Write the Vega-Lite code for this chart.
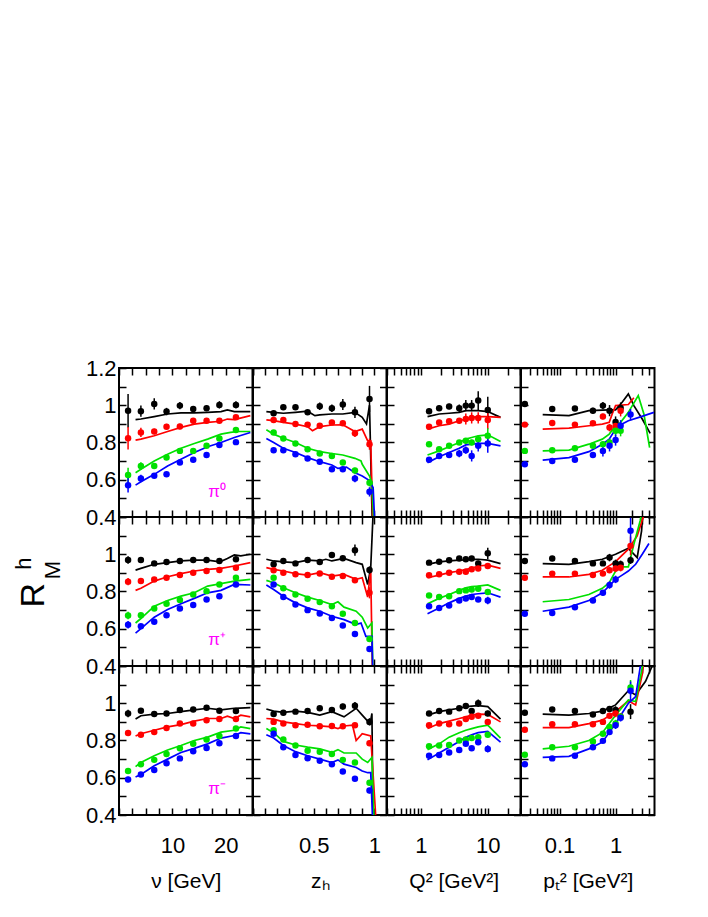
{
"$schema":"https://vega.github.io/schema/vega-lite/v6.json",
"background":"white",
"padding":{"left":11,"top":356,"right":5,"bottom":5},
"datasets":{
"Pn0":[{"c":"He","x":1.7,"y":0.971,"e":0.09},{"c":"He","x":4.1,"y":0.968,"e":0.03},{"c":"He","x":6.6,"y":1.007,"e":0.03},{"c":"He","x":8.9,"y":0.966,"e":0.02},{"c":"He","x":11.4,"y":0.998,"e":0.02},{"c":"He","x":13.9,"y":0.98,"e":0.015},{"c":"He","x":16.4,"y":0.984,"e":0.015},{"c":"He","x":18.8,"y":1.002,"e":0.02},{"c":"He","x":21.9,"y":1.002,"e":0.02},
{"c":"Ne","x":1.7,"y":0.823,"e":0.06},{"c":"Ne","x":4.1,"y":0.854,"e":0.025},{"c":"Ne","x":6.6,"y":0.859,"e":0.015},{"c":"Ne","x":8.9,"y":0.885,"e":0.015},{"c":"Ne","x":11.4,"y":0.886,"e":0.015},{"c":"Ne","x":13.9,"y":0.917,"e":0.012},{"c":"Ne","x":16.4,"y":0.917,"e":0.012},{"c":"Ne","x":18.8,"y":0.917,"e":0.012},{"c":"Ne","x":21.9,"y":0.935,"e":0.012},
{"c":"Kr","x":1.7,"y":0.625,"e":0.04},{"c":"Kr","x":4.1,"y":0.674,"e":0.02},{"c":"Kr","x":6.6,"y":0.674,"e":0.012},{"c":"Kr","x":8.9,"y":0.719,"e":0.01},{"c":"Kr","x":11.4,"y":0.755,"e":0.01},{"c":"Kr","x":13.9,"y":0.755,"e":0.01},{"c":"Kr","x":16.4,"y":0.782,"e":0.01},{"c":"Kr","x":18.8,"y":0.822,"e":0.01},{"c":"Kr","x":21.9,"y":0.867,"e":0.01},
{"c":"Xe","x":1.7,"y":0.571,"e":0.04},{"c":"Xe","x":4.1,"y":0.607,"e":0.02},{"c":"Xe","x":6.6,"y":0.622,"e":0.01},{"c":"Xe","x":8.9,"y":0.629,"e":0.01},{"c":"Xe","x":11.4,"y":0.692,"e":0.01},{"c":"Xe","x":13.9,"y":0.708,"e":0.01},{"c":"Xe","x":16.4,"y":0.733,"e":0.01},{"c":"Xe","x":18.8,"y":0.786,"e":0.01},{"c":"Xe","x":21.9,"y":0.802,"e":0.01}],
"Ln0":[{"c":"He","x":3.1,"y":0.923},{"c":"He","x":4.1,"y":0.926},{"c":"He","x":6.6,"y":0.939},{"c":"He","x":9.1,"y":0.953},{"c":"He","x":11.6,"y":0.959},{"c":"He","x":14.1,"y":0.959},{"c":"He","x":16.6,"y":0.962},{"c":"He","x":19.1,"y":0.966},{"c":"He","x":20.3,"y":0.975},{"c":"He","x":21.6,"y":0.966},{"c":"He","x":24.6,"y":0.966},
{"c":"Ne","x":3.1,"y":0.813},{"c":"Ne","x":4.1,"y":0.818},{"c":"Ne","x":6.6,"y":0.836},{"c":"Ne","x":9.1,"y":0.859},{"c":"Ne","x":11.6,"y":0.881},{"c":"Ne","x":14.1,"y":0.899},{"c":"Ne","x":16.6,"y":0.908},{"c":"Ne","x":19.1,"y":0.914},{"c":"Ne","x":20.3,"y":0.926},{"c":"Ne","x":21.6,"y":0.923},{"c":"Ne","x":24.6,"y":0.944},
{"c":"Kr","x":3.1,"y":0.638},{"c":"Kr","x":4.1,"y":0.656},{"c":"Kr","x":6.6,"y":0.701},{"c":"Kr","x":9.1,"y":0.737},{"c":"Kr","x":11.6,"y":0.769},{"c":"Kr","x":14.1,"y":0.795},{"c":"Kr","x":16.6,"y":0.818},{"c":"Kr","x":19.1,"y":0.845},{"c":"Kr","x":20.9,"y":0.854},{"c":"Kr","x":22.2,"y":0.859},{"c":"Kr","x":24.6,"y":0.859},
{"c":"Xe","x":3.1,"y":0.571},{"c":"Xe","x":4.1,"y":0.589},{"c":"Xe","x":6.6,"y":0.629},{"c":"Xe","x":9.1,"y":0.674},{"c":"Xe","x":11.6,"y":0.71},{"c":"Xe","x":14.1,"y":0.746},{"c":"Xe","x":16.6,"y":0.777},{"c":"Xe","x":19.1,"y":0.8},{"c":"Xe","x":21.6,"y":0.827},{"c":"Xe","x":24.6,"y":0.854}],
"Pnp":[{"c":"He","x":1.7,"y":0.969,"e":0.02},{"c":"He","x":4.1,"y":0.969,"e":0.01},{"c":"He","x":6.6,"y":0.951,"e":0.01},{"c":"He","x":8.9,"y":0.959,"e":0.01},{"c":"He","x":11.4,"y":0.964,"e":0.01},{"c":"He","x":13.9,"y":0.969,"e":0.01},{"c":"He","x":16.4,"y":0.969,"e":0.01},{"c":"He","x":18.8,"y":0.964,"e":0.01},{"c":"He","x":21.9,"y":0.973,"e":0.01},
{"c":"Ne","x":1.7,"y":0.853,"e":0.02},{"c":"Ne","x":4.1,"y":0.856,"e":0.01},{"c":"Ne","x":6.6,"y":0.865,"e":0.01},{"c":"Ne","x":8.9,"y":0.874,"e":0.01},{"c":"Ne","x":11.4,"y":0.888,"e":0.01},{"c":"Ne","x":13.9,"y":0.901,"e":0.01},{"c":"Ne","x":16.4,"y":0.91,"e":0.01},{"c":"Ne","x":18.8,"y":0.915,"e":0.01},{"c":"Ne","x":21.9,"y":0.928,"e":0.01},
{"c":"Kr","x":1.7,"y":0.671,"e":0.02},{"c":"Kr","x":4.1,"y":0.673,"e":0.01},{"c":"Kr","x":6.6,"y":0.709,"e":0.01},{"c":"Kr","x":8.9,"y":0.734,"e":0.01},{"c":"Kr","x":11.4,"y":0.755,"e":0.01},{"c":"Kr","x":13.9,"y":0.784,"e":0.01},{"c":"Kr","x":16.4,"y":0.802,"e":0.01},{"c":"Kr","x":18.8,"y":0.838,"e":0.01},{"c":"Kr","x":21.9,"y":0.874,"e":0.01},
{"c":"Xe","x":1.7,"y":0.622,"e":0.02},{"c":"Xe","x":4.1,"y":0.613,"e":0.01},{"c":"Xe","x":6.6,"y":0.637,"e":0.01},{"c":"Xe","x":8.9,"y":0.673,"e":0.01},{"c":"Xe","x":11.4,"y":0.709,"e":0.01},{"c":"Xe","x":13.9,"y":0.727,"e":0.01},{"c":"Xe","x":16.4,"y":0.757,"e":0.01},{"c":"Xe","x":18.8,"y":0.775,"e":0.01},{"c":"Xe","x":21.9,"y":0.838,"e":0.01}],
"Lnp":[{"c":"He","x":3.1,"y":0.915},{"c":"He","x":4.1,"y":0.924},{"c":"He","x":6.6,"y":0.946},{"c":"He","x":9.1,"y":0.955},{"c":"He","x":11.6,"y":0.964},{"c":"He","x":14.1,"y":0.968},{"c":"He","x":16.6,"y":0.968},{"c":"He","x":18.9,"y":0.959},{"c":"He","x":20.3,"y":0.977},{"c":"He","x":21.6,"y":0.996},{"c":"He","x":22.8,"y":0.991},{"c":"He","x":24.6,"y":1.0},
{"c":"Ne","x":3.1,"y":0.806},{"c":"Ne","x":4.1,"y":0.817},{"c":"Ne","x":6.6,"y":0.856},{"c":"Ne","x":9.1,"y":0.879},{"c":"Ne","x":11.6,"y":0.896},{"c":"Ne","x":14.1,"y":0.91},{"c":"Ne","x":16.6,"y":0.919},{"c":"Ne","x":19.1,"y":0.924},{"c":"Ne","x":21.6,"y":0.937},{"c":"Ne","x":24.6,"y":0.955},
{"c":"Kr","x":3.1,"y":0.631},{"c":"Kr","x":4.1,"y":0.655},{"c":"Kr","x":6.6,"y":0.721},{"c":"Kr","x":9.1,"y":0.752},{"c":"Kr","x":11.6,"y":0.775},{"c":"Kr","x":14.1,"y":0.793},{"c":"Kr","x":16.6,"y":0.829},{"c":"Kr","x":19.1,"y":0.842},{"c":"Kr","x":21.6,"y":0.856},{"c":"Kr","x":24.6,"y":0.865},
{"c":"Xe","x":3.1,"y":0.577},{"c":"Xe","x":4.1,"y":0.601},{"c":"Xe","x":6.6,"y":0.662},{"c":"Xe","x":9.1,"y":0.703},{"c":"Xe","x":11.6,"y":0.734},{"c":"Xe","x":14.1,"y":0.763},{"c":"Xe","x":16.6,"y":0.793},{"c":"Xe","x":19.1,"y":0.806},{"c":"Xe","x":21.6,"y":0.838},{"c":"Xe","x":24.6,"y":0.835}],
"Pnm":[{"c":"He","x":1.7,"y":0.945,"e":0.02},{"c":"He","x":4.1,"y":0.96,"e":0.01},{"c":"He","x":6.6,"y":0.942,"e":0.01},{"c":"He","x":8.9,"y":0.945,"e":0.01},{"c":"He","x":11.4,"y":0.964,"e":0.01},{"c":"He","x":13.9,"y":0.967,"e":0.01},{"c":"He","x":16.4,"y":0.976,"e":0.01},{"c":"He","x":18.8,"y":0.96,"e":0.01},{"c":"He","x":21.9,"y":0.958,"e":0.01},
{"c":"Ne","x":1.7,"y":0.84,"e":0.015},{"c":"Ne","x":4.1,"y":0.831,"e":0.01},{"c":"Ne","x":6.6,"y":0.845,"e":0.01},{"c":"Ne","x":8.9,"y":0.867,"e":0.01},{"c":"Ne","x":11.4,"y":0.891,"e":0.01},{"c":"Ne","x":13.9,"y":0.891,"e":0.01},{"c":"Ne","x":16.4,"y":0.909,"e":0.01},{"c":"Ne","x":18.8,"y":0.915,"e":0.01},{"c":"Ne","x":21.9,"y":0.915,"e":0.01},
{"c":"Kr","x":1.7,"y":0.636,"e":0.015},{"c":"Kr","x":4.1,"y":0.673,"e":0.01},{"c":"Kr","x":6.6,"y":0.696,"e":0.01},{"c":"Kr","x":8.9,"y":0.727,"e":0.01},{"c":"Kr","x":11.4,"y":0.758,"e":0.01},{"c":"Kr","x":13.9,"y":0.782,"e":0.01},{"c":"Kr","x":16.4,"y":0.805,"e":0.01},{"c":"Kr","x":18.8,"y":0.824,"e":0.01},{"c":"Kr","x":21.9,"y":0.864,"e":0.01},
{"c":"Xe","x":1.7,"y":0.591,"e":0.015},{"c":"Xe","x":4.1,"y":0.618,"e":0.01},{"c":"Xe","x":6.6,"y":0.642,"e":0.01},{"c":"Xe","x":8.9,"y":0.678,"e":0.01},{"c":"Xe","x":11.4,"y":0.704,"e":0.01},{"c":"Xe","x":13.9,"y":0.742,"e":0.01},{"c":"Xe","x":16.4,"y":0.76,"e":0.01},{"c":"Xe","x":18.8,"y":0.785,"e":0.01},{"c":"Xe","x":21.9,"y":0.824,"e":0.01}],
"Lnm":[{"c":"He","x":3.1,"y":0.915},{"c":"He","x":4.1,"y":0.933},{"c":"He","x":6.6,"y":0.942},{"c":"He","x":9.1,"y":0.945},{"c":"He","x":11.6,"y":0.955},{"c":"He","x":14.1,"y":0.964},{"c":"He","x":16.6,"y":0.973},{"c":"He","x":19.1,"y":0.964},{"c":"He","x":21.6,"y":0.973},{"c":"He","x":24.6,"y":0.976},
{"c":"Ne","x":3.1,"y":0.824},{"c":"Ne","x":4.1,"y":0.836},{"c":"Ne","x":6.6,"y":0.855},{"c":"Ne","x":9.1,"y":0.873},{"c":"Ne","x":11.6,"y":0.885},{"c":"Ne","x":14.1,"y":0.904},{"c":"Ne","x":16.6,"y":0.918},{"c":"Ne","x":19.1,"y":0.918},{"c":"Ne","x":20.3,"y":0.931},{"c":"Ne","x":21.6,"y":0.918},{"c":"Ne","x":22.8,"y":0.936},{"c":"Ne","x":24.6,"y":0.927},
{"c":"Kr","x":3.1,"y":0.66},{"c":"Kr","x":4.1,"y":0.682},{"c":"Kr","x":6.6,"y":0.718},{"c":"Kr","x":9.1,"y":0.749},{"c":"Kr","x":11.6,"y":0.773},{"c":"Kr","x":14.1,"y":0.8},{"c":"Kr","x":16.6,"y":0.818},{"c":"Kr","x":19.1,"y":0.845},{"c":"Kr","x":21.6,"y":0.855},{"c":"Kr","x":22.8,"y":0.873},{"c":"Kr","x":24.6,"y":0.864},
{"c":"Xe","x":3.1,"y":0.604},{"c":"Xe","x":4.1,"y":0.618},{"c":"Xe","x":6.6,"y":0.664},{"c":"Xe","x":9.1,"y":0.7},{"c":"Xe","x":11.6,"y":0.736},{"c":"Xe","x":14.1,"y":0.758},{"c":"Xe","x":16.6,"y":0.782},{"c":"Xe","x":19.1,"y":0.813},{"c":"Xe","x":21.6,"y":0.827},{"c":"Xe","x":22.8,"y":0.842},{"c":"Xe","x":24.6,"y":0.836}],
"Pz0":[{"c":"He","x":0.17,"y":0.957,"e":0.01},{"c":"He","x":0.25,"y":0.989,"e":0.01},{"c":"He","x":0.35,"y":0.989,"e":0.01},{"c":"He","x":0.45,"y":0.962,"e":0.01},{"c":"He","x":0.55,"y":0.995,"e":0.02},{"c":"He","x":0.65,"y":0.984,"e":0.02},{"c":"He","x":0.74,"y":1.004,"e":0.03},{"c":"He","x":0.84,"y":0.962,"e":0.03},{"c":"He","x":0.96,"y":1.034,"e":0.07},
{"c":"Ne","x":0.17,"y":0.921,"e":0.01},{"c":"Ne","x":0.25,"y":0.921,"e":0.01},{"c":"Ne","x":0.35,"y":0.899,"e":0.01},{"c":"Ne","x":0.45,"y":0.896,"e":0.01},{"c":"Ne","x":0.55,"y":0.89,"e":0.01},{"c":"Ne","x":0.65,"y":0.908,"e":0.01},{"c":"Ne","x":0.74,"y":0.903,"e":0.01},{"c":"Ne","x":0.84,"y":0.849,"e":0.02},{"c":"Ne","x":0.96,"y":0.791,"e":0.03},
{"c":"Kr","x":0.17,"y":0.854,"e":0.01},{"c":"Kr","x":0.25,"y":0.822,"e":0.01},{"c":"Kr","x":0.35,"y":0.795,"e":0.01},{"c":"Kr","x":0.45,"y":0.764,"e":0.01},{"c":"Kr","x":0.55,"y":0.741,"e":0.01},{"c":"Kr","x":0.65,"y":0.728,"e":0.01},{"c":"Kr","x":0.74,"y":0.692,"e":0.01},{"c":"Kr","x":0.84,"y":0.65,"e":0.015},{"c":"Kr","x":0.96,"y":0.584,"e":0.02},
{"c":"Xe","x":0.17,"y":0.759,"e":0.01},{"c":"Xe","x":0.25,"y":0.759,"e":0.01},{"c":"Xe","x":0.35,"y":0.737,"e":0.01},{"c":"Xe","x":0.45,"y":0.714,"e":0.01},{"c":"Xe","x":0.55,"y":0.697,"e":0.01},{"c":"Xe","x":0.65,"y":0.656,"e":0.012},{"c":"Xe","x":0.74,"y":0.656,"e":0.015},{"c":"Xe","x":0.84,"y":0.607,"e":0.02},{"c":"Xe","x":0.96,"y":0.535,"e":0.025}],
"Lz0":[{"c":"He","x":0.11,"y":0.966},{"c":"He","x":0.17,"y":0.962},{"c":"He","x":0.25,"y":0.957},{"c":"He","x":0.35,"y":0.962},{"c":"He","x":0.45,"y":0.968},{"c":"He","x":0.51,"y":0.944},{"c":"He","x":0.55,"y":0.948},{"c":"He","x":0.65,"y":0.953},{"c":"He","x":0.74,"y":0.953},{"c":"He","x":0.84,"y":0.962},{"c":"He","x":0.9,"y":0.935},{"c":"He","x":0.935,"y":0.9},{"c":"He","x":0.96,"y":1.0},{"c":"He","x":0.985,"y":0.3},
{"c":"Ne","x":0.11,"y":0.921},{"c":"Ne","x":0.17,"y":0.917},{"c":"Ne","x":0.25,"y":0.908},{"c":"Ne","x":0.35,"y":0.899},{"c":"Ne","x":0.45,"y":0.885},{"c":"Ne","x":0.49,"y":0.863},{"c":"Ne","x":0.55,"y":0.885},{"c":"Ne","x":0.65,"y":0.894},{"c":"Ne","x":0.74,"y":0.895},{"c":"Ne","x":0.84,"y":0.859},{"c":"Ne","x":0.9,"y":0.872},{"c":"Ne","x":0.945,"y":0.809},{"c":"Ne","x":0.97,"y":0.809},{"c":"Ne","x":0.99,"y":0.3},
{"c":"Kr","x":0.11,"y":0.868},{"c":"Kr","x":0.17,"y":0.845},{"c":"Kr","x":0.25,"y":0.823},{"c":"Kr","x":0.35,"y":0.8},{"c":"Kr","x":0.45,"y":0.769},{"c":"Kr","x":0.55,"y":0.751},{"c":"Kr","x":0.65,"y":0.741},{"c":"Kr","x":0.74,"y":0.733},{"c":"Kr","x":0.84,"y":0.715},{"c":"Kr","x":0.89,"y":0.701},{"c":"Kr","x":0.9,"y":0.683},{"c":"Kr","x":0.96,"y":0.62},{"c":"Kr","x":0.98,"y":0.584},{"c":"Kr","x":1.0,"y":0.3},
{"c":"Xe","x":0.11,"y":0.822},{"c":"Xe","x":0.17,"y":0.8},{"c":"Xe","x":0.25,"y":0.769},{"c":"Xe","x":0.35,"y":0.746},{"c":"Xe","x":0.45,"y":0.719},{"c":"Xe","x":0.55,"y":0.697},{"c":"Xe","x":0.65,"y":0.679},{"c":"Xe","x":0.7,"y":0.661},{"c":"Xe","x":0.77,"y":0.668},{"c":"Xe","x":0.84,"y":0.638},{"c":"Xe","x":0.9,"y":0.62},{"c":"Xe","x":0.96,"y":0.596},{"c":"Xe","x":0.99,"y":0.557},{"c":"Xe","x":1.008,"y":0.3}],
"Pzp":[{"c":"He","x":0.17,"y":0.946,"e":0.01},{"c":"He","x":0.25,"y":0.964,"e":0.01},{"c":"He","x":0.35,"y":0.951,"e":0.01},{"c":"He","x":0.45,"y":0.969,"e":0.01},{"c":"He","x":0.55,"y":0.959,"e":0.01},{"c":"He","x":0.65,"y":0.996,"e":0.01},{"c":"He","x":0.74,"y":0.978,"e":0.01},{"c":"He","x":0.84,"y":1.022,"e":0.03},{"c":"He","x":0.96,"y":0.915,"e":0.02},
{"c":"Ne","x":0.17,"y":0.914,"e":0.01},{"c":"Ne","x":0.25,"y":0.901,"e":0.01},{"c":"Ne","x":0.35,"y":0.892,"e":0.01},{"c":"Ne","x":0.45,"y":0.888,"e":0.01},{"c":"Ne","x":0.55,"y":0.897,"e":0.01},{"c":"Ne","x":0.65,"y":0.879,"e":0.01},{"c":"Ne","x":0.74,"y":0.883,"e":0.01},{"c":"Ne","x":0.84,"y":0.86,"e":0.01},{"c":"Ne","x":0.96,"y":0.793,"e":0.03},
{"c":"Kr","x":0.17,"y":0.874,"e":0.01},{"c":"Kr","x":0.25,"y":0.817,"e":0.01},{"c":"Kr","x":0.35,"y":0.784,"e":0.01},{"c":"Kr","x":0.45,"y":0.761,"e":0.01},{"c":"Kr","x":0.55,"y":0.743,"e":0.01},{"c":"Kr","x":0.65,"y":0.721,"e":0.01},{"c":"Kr","x":0.74,"y":0.68,"e":0.01},{"c":"Kr","x":0.84,"y":0.631,"e":0.01},{"c":"Kr","x":0.96,"y":0.545,"e":0.015},
{"c":"Xe","x":0.17,"y":0.838,"e":0.01},{"c":"Xe","x":0.25,"y":0.77,"e":0.01},{"c":"Xe","x":0.35,"y":0.73,"e":0.01},{"c":"Xe","x":0.45,"y":0.7,"e":0.01},{"c":"Xe","x":0.55,"y":0.682,"e":0.01},{"c":"Xe","x":0.65,"y":0.658,"e":0.01},{"c":"Xe","x":0.74,"y":0.617,"e":0.01},{"c":"Xe","x":0.84,"y":0.572,"e":0.01},{"c":"Xe","x":0.96,"y":0.491,"e":0.015}],
"Lzp":[{"c":"He","x":0.11,"y":0.973},{"c":"He","x":0.17,"y":0.964},{"c":"He","x":0.25,"y":0.959},{"c":"He","x":0.35,"y":0.955},{"c":"He","x":0.45,"y":0.968},{"c":"He","x":0.55,"y":0.964},{"c":"He","x":0.6,"y":0.973},{"c":"He","x":0.65,"y":0.964},{"c":"He","x":0.75,"y":0.978},{"c":"He","x":0.85,"y":0.955},{"c":"He","x":0.9,"y":0.946},{"c":"He","x":0.945,"y":0.838},{"c":"He","x":0.97,"y":0.928},{"c":"He","x":0.995,"y":1.3},
{"c":"Ne","x":0.11,"y":0.928},{"c":"Ne","x":0.17,"y":0.919},{"c":"Ne","x":0.25,"y":0.91},{"c":"Ne","x":0.35,"y":0.896},{"c":"Ne","x":0.45,"y":0.888},{"c":"Ne","x":0.55,"y":0.901},{"c":"Ne","x":0.65,"y":0.883},{"c":"Ne","x":0.75,"y":0.892},{"c":"Ne","x":0.85,"y":0.865},{"c":"Ne","x":0.9,"y":0.874},{"c":"Ne","x":0.945,"y":0.77},{"c":"Ne","x":0.97,"y":0.919},{"c":"Ne","x":0.985,"y":0.3},
{"c":"Kr","x":0.11,"y":0.86},{"c":"Kr","x":0.17,"y":0.847},{"c":"Kr","x":0.25,"y":0.82},{"c":"Kr","x":0.35,"y":0.793},{"c":"Kr","x":0.45,"y":0.77},{"c":"Kr","x":0.55,"y":0.752},{"c":"Kr","x":0.65,"y":0.73},{"c":"Kr","x":0.7,"y":0.745},{"c":"Kr","x":0.75,"y":0.716},{"c":"Kr","x":0.85,"y":0.694},{"c":"Kr","x":0.9,"y":0.662},{"c":"Kr","x":0.945,"y":0.604},{"c":"Kr","x":0.98,"y":0.631},{"c":"Kr","x":0.99,"y":0.3},
{"c":"Xe","x":0.11,"y":0.835},{"c":"Xe","x":0.17,"y":0.811},{"c":"Xe","x":0.25,"y":0.775},{"c":"Xe","x":0.35,"y":0.739},{"c":"Xe","x":0.45,"y":0.712},{"c":"Xe","x":0.55,"y":0.694},{"c":"Xe","x":0.65,"y":0.667},{"c":"Xe","x":0.75,"y":0.649},{"c":"Xe","x":0.85,"y":0.622},{"c":"Xe","x":0.89,"y":0.631},{"c":"Xe","x":0.93,"y":0.559},{"c":"Xe","x":0.98,"y":0.559},{"c":"Xe","x":0.99,"y":0.3}],
"Pzm":[{"c":"He","x":0.17,"y":0.942,"e":0.01},{"c":"He","x":0.25,"y":0.949,"e":0.01},{"c":"He","x":0.35,"y":0.955,"e":0.01},{"c":"He","x":0.45,"y":0.958,"e":0.01},{"c":"He","x":0.55,"y":0.973,"e":0.01},{"c":"He","x":0.65,"y":0.964,"e":0.01},{"c":"He","x":0.74,"y":0.982,"e":0.015},{"c":"He","x":0.84,"y":0.987,"e":0.02},{"c":"He","x":0.96,"y":0.9,"e":0.02},
{"c":"Ne","x":0.17,"y":0.9,"e":0.01},{"c":"Ne","x":0.25,"y":0.891,"e":0.01},{"c":"Ne","x":0.35,"y":0.882,"e":0.01},{"c":"Ne","x":0.45,"y":0.885,"e":0.01},{"c":"Ne","x":0.55,"y":0.876,"e":0.01},{"c":"Ne","x":0.65,"y":0.878,"e":0.01},{"c":"Ne","x":0.74,"y":0.876,"e":0.01},{"c":"Ne","x":0.84,"y":0.882,"e":0.01},{"c":"Ne","x":0.96,"y":0.785,"e":0.015},
{"c":"Kr","x":0.17,"y":0.855,"e":0.01},{"c":"Kr","x":0.25,"y":0.805,"e":0.01},{"c":"Kr","x":0.35,"y":0.773,"e":0.01},{"c":"Kr","x":0.45,"y":0.745,"e":0.01},{"c":"Kr","x":0.55,"y":0.74,"e":0.01},{"c":"Kr","x":0.65,"y":0.727,"e":0.01},{"c":"Kr","x":0.74,"y":0.696,"e":0.01},{"c":"Kr","x":0.84,"y":0.682,"e":0.01},{"c":"Kr","x":0.96,"y":0.573,"e":0.015},
{"c":"Xe","x":0.17,"y":0.836,"e":0.01},{"c":"Xe","x":0.25,"y":0.764,"e":0.01},{"c":"Xe","x":0.35,"y":0.722,"e":0.01},{"c":"Xe","x":0.45,"y":0.705,"e":0.01},{"c":"Xe","x":0.55,"y":0.691,"e":0.01},{"c":"Xe","x":0.65,"y":0.673,"e":0.01},{"c":"Xe","x":0.74,"y":0.633,"e":0.01},{"c":"Xe","x":0.84,"y":0.595,"e":0.01},{"c":"Xe","x":0.96,"y":0.531,"e":0.015}],
"Lzm":[{"c":"He","x":0.11,"y":0.969},{"c":"He","x":0.17,"y":0.958},{"c":"He","x":0.25,"y":0.951},{"c":"He","x":0.35,"y":0.958},{"c":"He","x":0.45,"y":0.951},{"c":"He","x":0.55,"y":0.936},{"c":"He","x":0.65,"y":0.955},{"c":"He","x":0.75,"y":0.927},{"c":"He","x":0.85,"y":0.973},{"c":"He","x":0.9,"y":0.936},{"c":"He","x":0.945,"y":0.904},{"c":"He","x":0.965,"y":0.89},{"c":"He","x":0.98,"y":0.945},{"c":"He","x":0.99,"y":0.3},
{"c":"Ne","x":0.11,"y":0.918},{"c":"Ne","x":0.17,"y":0.915},{"c":"Ne","x":0.25,"y":0.9},{"c":"Ne","x":0.35,"y":0.891},{"c":"Ne","x":0.45,"y":0.882},{"c":"Ne","x":0.55,"y":0.878},{"c":"Ne","x":0.65,"y":0.873},{"c":"Ne","x":0.7,"y":0.864},{"c":"Ne","x":0.75,"y":0.878},{"c":"Ne","x":0.82,"y":0.882},{"c":"Ne","x":0.85,"y":0.8},{"c":"Ne","x":0.9,"y":0.836},{"c":"Ne","x":0.97,"y":0.824},{"c":"Ne","x":1.02,"y":0.3},
{"c":"Kr","x":0.11,"y":0.864},{"c":"Kr","x":0.17,"y":0.842},{"c":"Kr","x":0.25,"y":0.795},{"c":"Kr","x":0.35,"y":0.776},{"c":"Kr","x":0.45,"y":0.764},{"c":"Kr","x":0.55,"y":0.755},{"c":"Kr","x":0.65,"y":0.736},{"c":"Kr","x":0.7,"y":0.751},{"c":"Kr","x":0.75,"y":0.733},{"c":"Kr","x":0.85,"y":0.733},{"c":"Kr","x":0.9,"y":0.7},{"c":"Kr","x":0.945,"y":0.682},{"c":"Kr","x":0.98,"y":0.709},{"c":"Kr","x":1.0,"y":0.3},
{"c":"Xe","x":0.11,"y":0.831},{"c":"Xe","x":0.17,"y":0.813},{"c":"Xe","x":0.25,"y":0.773},{"c":"Xe","x":0.35,"y":0.74},{"c":"Xe","x":0.45,"y":0.718},{"c":"Xe","x":0.55,"y":0.7},{"c":"Xe","x":0.65,"y":0.682},{"c":"Xe","x":0.7,"y":0.696},{"c":"Xe","x":0.75,"y":0.673},{"c":"Xe","x":0.85,"y":0.655},{"c":"Xe","x":0.9,"y":0.636},{"c":"Xe","x":0.945,"y":0.627},{"c":"Xe","x":0.97,"y":0.627},{"c":"Xe","x":0.99,"y":0.3}],
"PQ0":[{"c":"He","x":1.33,"y":0.968,"e":0.015},{"c":"He","x":1.88,"y":0.984,"e":0.015},{"c":"He","x":2.65,"y":0.993,"e":0.015},{"c":"He","x":3.75,"y":0.984,"e":0.02},{"c":"He","x":4.7,"y":0.998,"e":0.03},{"c":"He","x":5.75,"y":0.998,"e":0.03},{"c":"He","x":7.2,"y":1.025,"e":0.05},{"c":"He","x":10,"y":0.975,"e":0.07},
{"c":"Ne","x":1.33,"y":0.885,"e":0.01},{"c":"Ne","x":1.88,"y":0.908,"e":0.01},{"c":"Ne","x":2.65,"y":0.914,"e":0.01},{"c":"Ne","x":3.75,"y":0.917,"e":0.015},{"c":"Ne","x":4.7,"y":0.926,"e":0.03},{"c":"Ne","x":5.75,"y":0.932,"e":0.03},{"c":"Ne","x":7.2,"y":0.932,"e":0.03},{"c":"Ne","x":10,"y":0.921,"e":0.05},
{"c":"Kr","x":1.33,"y":0.791,"e":0.01},{"c":"Kr","x":1.88,"y":0.764,"e":0.01},{"c":"Kr","x":2.65,"y":0.782,"e":0.01},{"c":"Kr","x":3.75,"y":0.8,"e":0.01},{"c":"Kr","x":4.7,"y":0.809,"e":0.015},{"c":"Kr","x":5.75,"y":0.8,"e":0.015},{"c":"Kr","x":7.2,"y":0.818,"e":0.02},{"c":"Kr","x":10,"y":0.836,"e":0.04},
{"c":"Xe","x":1.33,"y":0.708,"e":0.01},{"c":"Xe","x":1.88,"y":0.728,"e":0.01},{"c":"Xe","x":2.65,"y":0.733,"e":0.01},{"c":"Xe","x":3.75,"y":0.741,"e":0.02},{"c":"Xe","x":4.7,"y":0.759,"e":0.02},{"c":"Xe","x":5.75,"y":0.728,"e":0.03},{"c":"Xe","x":7.2,"y":0.782,"e":0.03},{"c":"Xe","x":10,"y":0.795,"e":0.05}],
"LQ0":[{"c":"He","x":1.26,"y":0.939},{"c":"He","x":1.88,"y":0.953},{"c":"He","x":2.65,"y":0.957},{"c":"He","x":3.75,"y":0.962},{"c":"He","x":4.7,"y":0.971},{"c":"He","x":5.75,"y":0.971},{"c":"He","x":7.2,"y":0.971},{"c":"He","x":10,"y":0.966},{"c":"He","x":15.5,"y":0.935},
{"c":"Ne","x":1.26,"y":0.872},{"c":"Ne","x":1.88,"y":0.89},{"c":"Ne","x":2.65,"y":0.899},{"c":"Ne","x":3.75,"y":0.917},{"c":"Ne","x":4.7,"y":0.926},{"c":"Ne","x":5.75,"y":0.935},{"c":"Ne","x":7.2,"y":0.939},{"c":"Ne","x":10,"y":0.939},{"c":"Ne","x":15.5,"y":0.935},
{"c":"Kr","x":1.26,"y":0.733},{"c":"Kr","x":1.88,"y":0.755},{"c":"Kr","x":2.65,"y":0.777},{"c":"Kr","x":3.75,"y":0.8},{"c":"Kr","x":4.7,"y":0.818},{"c":"Kr","x":5.75,"y":0.827},{"c":"Kr","x":7.2,"y":0.836},{"c":"Kr","x":10,"y":0.841},{"c":"Kr","x":15.5,"y":0.805},
{"c":"Xe","x":1.26,"y":0.692},{"c":"Xe","x":1.88,"y":0.723},{"c":"Xe","x":2.65,"y":0.746},{"c":"Xe","x":3.75,"y":0.769},{"c":"Xe","x":4.7,"y":0.787},{"c":"Xe","x":5.75,"y":0.791},{"c":"Xe","x":7.2,"y":0.795},{"c":"Xe","x":10,"y":0.795},{"c":"Xe","x":15.5,"y":0.782}],
"PQp":[{"c":"He","x":1.33,"y":0.955,"e":0.01},{"c":"He","x":1.88,"y":0.96,"e":0.01},{"c":"He","x":2.65,"y":0.968,"e":0.01},{"c":"He","x":3.75,"y":0.977,"e":0.01},{"c":"He","x":4.7,"y":0.973,"e":0.01},{"c":"He","x":5.75,"y":0.977,"e":0.01},{"c":"He","x":7.2,"y":0.95,"e":0.015},{"c":"He","x":10,"y":1.005,"e":0.03},
{"c":"Ne","x":1.33,"y":0.887,"e":0.01},{"c":"Ne","x":1.88,"y":0.892,"e":0.01},{"c":"Ne","x":2.65,"y":0.901,"e":0.01},{"c":"Ne","x":3.75,"y":0.906,"e":0.01},{"c":"Ne","x":4.7,"y":0.906,"e":0.01},{"c":"Ne","x":5.75,"y":0.919,"e":0.01},{"c":"Ne","x":7.2,"y":0.924,"e":0.01},{"c":"Ne","x":10,"y":0.937,"e":0.015},
{"c":"Kr","x":1.33,"y":0.779,"e":0.01},{"c":"Kr","x":1.88,"y":0.77,"e":0.01},{"c":"Kr","x":2.65,"y":0.775,"e":0.01},{"c":"Kr","x":3.75,"y":0.802,"e":0.01},{"c":"Kr","x":4.7,"y":0.806,"e":0.01},{"c":"Kr","x":5.75,"y":0.811,"e":0.01},{"c":"Kr","x":7.2,"y":0.815,"e":0.01},{"c":"Kr","x":10,"y":0.797,"e":0.015},
{"c":"Xe","x":1.33,"y":0.721,"e":0.01},{"c":"Xe","x":1.88,"y":0.712,"e":0.01},{"c":"Xe","x":2.65,"y":0.725,"e":0.01},{"c":"Xe","x":3.75,"y":0.752,"e":0.01},{"c":"Xe","x":4.7,"y":0.763,"e":0.01},{"c":"Xe","x":5.75,"y":0.77,"e":0.01},{"c":"Xe","x":7.2,"y":0.757,"e":0.01},{"c":"Xe","x":10,"y":0.752,"e":0.02}],
"LQp":[{"c":"He","x":1.26,"y":0.946},{"c":"He","x":1.88,"y":0.959},{"c":"He","x":2.65,"y":0.964},{"c":"He","x":3.75,"y":0.968},{"c":"He","x":4.7,"y":0.969},{"c":"He","x":5.75,"y":0.973},{"c":"He","x":7.2,"y":0.973},{"c":"He","x":10,"y":0.968},{"c":"He","x":15.5,"y":0.95},
{"c":"Ne","x":1.26,"y":0.874},{"c":"Ne","x":1.88,"y":0.888},{"c":"Ne","x":2.65,"y":0.901},{"c":"Ne","x":3.75,"y":0.91},{"c":"Ne","x":4.7,"y":0.919},{"c":"Ne","x":5.75,"y":0.924},{"c":"Ne","x":7.2,"y":0.937},{"c":"Ne","x":10,"y":0.942},{"c":"Ne","x":15.5,"y":0.924},
{"c":"Kr","x":1.26,"y":0.734},{"c":"Kr","x":1.88,"y":0.763},{"c":"Kr","x":2.65,"y":0.784},{"c":"Kr","x":3.75,"y":0.806},{"c":"Kr","x":4.7,"y":0.82},{"c":"Kr","x":5.75,"y":0.827},{"c":"Kr","x":7.2,"y":0.829},{"c":"Kr","x":10,"y":0.835},{"c":"Kr","x":15.5,"y":0.806},
{"c":"Xe","x":1.26,"y":0.68},{"c":"Xe","x":1.88,"y":0.712},{"c":"Xe","x":2.65,"y":0.739},{"c":"Xe","x":3.75,"y":0.763},{"c":"Xe","x":4.7,"y":0.775},{"c":"Xe","x":5.75,"y":0.784},{"c":"Xe","x":7.2,"y":0.788},{"c":"Xe","x":10,"y":0.793},{"c":"Xe","x":15.5,"y":0.77}],
"PQm":[{"c":"He","x":1.33,"y":0.945,"e":0.01},{"c":"He","x":1.88,"y":0.958,"e":0.01},{"c":"He","x":2.65,"y":0.955,"e":0.01},{"c":"He","x":3.75,"y":0.973,"e":0.01},{"c":"He","x":4.7,"y":0.985,"e":0.01},{"c":"He","x":5.75,"y":0.958,"e":0.01},{"c":"He","x":7.2,"y":1.0,"e":0.02},{"c":"He","x":10,"y":0.945,"e":0.015},
{"c":"Ne","x":1.33,"y":0.882,"e":0.01},{"c":"Ne","x":1.88,"y":0.891,"e":0.01},{"c":"Ne","x":2.65,"y":0.887,"e":0.01},{"c":"Ne","x":3.75,"y":0.891,"e":0.01},{"c":"Ne","x":4.7,"y":0.915,"e":0.01},{"c":"Ne","x":5.75,"y":0.927,"e":0.01},{"c":"Ne","x":7.2,"y":0.933,"e":0.01},{"c":"Ne","x":10,"y":0.9,"e":0.015},
{"c":"Kr","x":1.33,"y":0.769,"e":0.01},{"c":"Kr","x":1.88,"y":0.773,"e":0.01},{"c":"Kr","x":2.65,"y":0.776,"e":0.01},{"c":"Kr","x":3.75,"y":0.8,"e":0.01},{"c":"Kr","x":4.7,"y":0.805,"e":0.01},{"c":"Kr","x":5.75,"y":0.813,"e":0.01},{"c":"Kr","x":7.2,"y":0.818,"e":0.01},{"c":"Kr","x":10,"y":0.831,"e":0.015},
{"c":"Xe","x":1.33,"y":0.718,"e":0.01},{"c":"Xe","x":1.88,"y":0.722,"e":0.01},{"c":"Xe","x":2.65,"y":0.736,"e":0.01},{"c":"Xe","x":3.75,"y":0.749,"e":0.01},{"c":"Xe","x":4.7,"y":0.782,"e":0.01},{"c":"Xe","x":5.75,"y":0.758,"e":0.01},{"c":"Xe","x":7.2,"y":0.791,"e":0.01},{"c":"Xe","x":10,"y":0.755,"e":0.02}],
"LQm":[{"c":"He","x":1.26,"y":0.936},{"c":"He","x":1.88,"y":0.955},{"c":"He","x":2.65,"y":0.964},{"c":"He","x":3.75,"y":0.973},{"c":"He","x":4.7,"y":0.982},{"c":"He","x":5.75,"y":0.985},{"c":"He","x":7.2,"y":0.987},{"c":"He","x":10,"y":0.982},{"c":"He","x":15.5,"y":0.915},
{"c":"Ne","x":1.26,"y":0.864},{"c":"Ne","x":1.88,"y":0.891},{"c":"Ne","x":2.65,"y":0.904},{"c":"Ne","x":3.75,"y":0.918},{"c":"Ne","x":4.7,"y":0.927},{"c":"Ne","x":5.75,"y":0.936},{"c":"Ne","x":7.2,"y":0.942},{"c":"Ne","x":10,"y":0.94},{"c":"Ne","x":15.5,"y":0.9},
{"c":"Kr","x":1.26,"y":0.751},{"c":"Kr","x":1.88,"y":0.782},{"c":"Kr","x":2.65,"y":0.818},{"c":"Kr","x":3.75,"y":0.842},{"c":"Kr","x":4.7,"y":0.855},{"c":"Kr","x":5.75,"y":0.864},{"c":"Kr","x":7.2,"y":0.873},{"c":"Kr","x":10,"y":0.882},{"c":"Kr","x":15.5,"y":0.813},
{"c":"Xe","x":1.26,"y":0.696},{"c":"Xe","x":1.88,"y":0.733},{"c":"Xe","x":2.65,"y":0.764},{"c":"Xe","x":3.75,"y":0.795},{"c":"Xe","x":4.7,"y":0.818},{"c":"Xe","x":5.75,"y":0.831},{"c":"Xe","x":7.2,"y":0.842},{"c":"Xe","x":10,"y":0.849},{"c":"Xe","x":15.5,"y":0.791}],
"Pp0":[{"c":"He","x":0.024,"y":1.007,"e":0.01},{"c":"He","x":0.074,"y":0.98,"e":0.015},{"c":"He","x":0.188,"y":0.982,"e":0.01},{"c":"He","x":0.394,"y":0.971,"e":0.015},{"c":"He","x":0.594,"y":0.998,"e":0.02},{"c":"He","x":0.78,"y":0.971,"e":0.03},{"c":"He","x":1.0,"y":0.91,"e":0.03},{"c":"He","x":1.23,"y":0.985,"e":0.03},
{"c":"Ne","x":0.024,"y":0.896,"e":0.01},{"c":"Ne","x":0.074,"y":0.905,"e":0.01},{"c":"Ne","x":0.188,"y":0.896,"e":0.01},{"c":"Ne","x":0.394,"y":0.903,"e":0.01},{"c":"Ne","x":0.594,"y":0.94,"e":0.015},{"c":"Ne","x":0.78,"y":0.88,"e":0.02},{"c":"Ne","x":1.0,"y":0.888,"e":0.03},{"c":"Ne","x":1.23,"y":0.97,"e":0.03},
{"c":"Kr","x":0.024,"y":0.755,"e":0.01},{"c":"Kr","x":0.074,"y":0.759,"e":0.01},{"c":"Kr","x":0.188,"y":0.769,"e":0.01},{"c":"Kr","x":0.394,"y":0.782,"e":0.01},{"c":"Kr","x":0.594,"y":0.791,"e":0.015},{"c":"Kr","x":0.78,"y":0.8,"e":0.02},{"c":"Kr","x":1.0,"y":0.863,"e":0.03},{"c":"Kr","x":1.23,"y":0.863,"e":0.03},
{"c":"Xe","x":0.024,"y":0.683,"e":0.01},{"c":"Xe","x":0.074,"y":0.701,"e":0.01},{"c":"Xe","x":0.188,"y":0.708,"e":0.01},{"c":"Xe","x":0.394,"y":0.733,"e":0.01},{"c":"Xe","x":0.594,"y":0.755,"e":0.03},{"c":"Xe","x":0.78,"y":0.782,"e":0.03},{"c":"Xe","x":1.0,"y":0.813,"e":0.03},{"c":"Xe","x":1.23,"y":0.89,"e":0.03},{"c":"Xe","x":1.85,"y":0.95,"e":0.03}],
"Lp0":[{"c":"He","x":0.05,"y":0.95},{"c":"He","x":0.147,"y":0.944},{"c":"He","x":0.334,"y":0.971},{"c":"He","x":0.77,"y":0.975},{"c":"He","x":1.0,"y":0.975},{"c":"He","x":1.31,"y":1.016},{"c":"He","x":1.69,"y":1.061},{"c":"He","x":2.12,"y":0.998},{"c":"He","x":2.99,"y":0.926},{"c":"He","x":4.15,"y":0.849},
{"c":"Ne","x":0.05,"y":0.872},{"c":"Ne","x":0.147,"y":0.877},{"c":"Ne","x":0.334,"y":0.89},{"c":"Ne","x":0.58,"y":0.899},{"c":"Ne","x":0.77,"y":0.908},{"c":"Ne","x":0.87,"y":0.953},{"c":"Ne","x":1.0,"y":0.998},{"c":"Ne","x":1.69,"y":1.004},{"c":"Ne","x":2.12,"y":1.04},
{"c":"Kr","x":0.05,"y":0.755},{"c":"Kr","x":0.147,"y":0.759},{"c":"Kr","x":0.334,"y":0.791},{"c":"Kr","x":0.58,"y":0.818},{"c":"Kr","x":0.77,"y":0.845},{"c":"Kr","x":1.0,"y":0.89},{"c":"Kr","x":1.23,"y":0.908},{"c":"Kr","x":1.69,"y":0.962},{"c":"Kr","x":2.54,"y":1.052},{"c":"Kr","x":3.2,"y":0.953},{"c":"Kr","x":4.05,"y":0.773},
{"c":"Xe","x":0.05,"y":0.705},{"c":"Xe","x":0.147,"y":0.719},{"c":"Xe","x":0.334,"y":0.751},{"c":"Xe","x":0.58,"y":0.791},{"c":"Xe","x":0.77,"y":0.818},{"c":"Xe","x":1.0,"y":0.872},{"c":"Xe","x":1.31,"y":0.899},{"c":"Xe","x":1.69,"y":0.917},{"c":"Xe","x":2.61,"y":0.935},{"c":"Xe","x":4.83,"y":0.962}],
"Ppp":[{"c":"He","x":0.024,"y":0.964,"e":0.01},{"c":"He","x":0.074,"y":0.977,"e":0.01},{"c":"He","x":0.188,"y":0.964,"e":0.01},{"c":"He","x":0.394,"y":0.951,"e":0.01},{"c":"He","x":0.594,"y":0.951,"e":0.01},{"c":"He","x":0.78,"y":0.982,"e":0.02},{"c":"He","x":1.0,"y":0.951,"e":0.02},{"c":"He","x":1.23,"y":0.946,"e":0.02},{"c":"He","x":1.85,"y":0.968,"e":0.02},
{"c":"Ne","x":0.024,"y":0.874,"e":0.01},{"c":"Ne","x":0.074,"y":0.896,"e":0.01},{"c":"Ne","x":0.188,"y":0.896,"e":0.01},{"c":"Ne","x":0.394,"y":0.888,"e":0.01},{"c":"Ne","x":0.594,"y":0.896,"e":0.01},{"c":"Ne","x":0.78,"y":0.914,"e":0.015},{"c":"Ne","x":1.0,"y":0.924,"e":0.02},{"c":"Ne","x":1.23,"y":0.928,"e":0.02},{"c":"Ne","x":1.85,"y":1.045,"e":0.05},
{"c":"Xe","x":0.024,"y":0.68,"e":0.01},{"c":"Xe","x":0.074,"y":0.685,"e":0.01},{"c":"Xe","x":0.188,"y":0.716,"e":0.01},{"c":"Xe","x":0.394,"y":0.752,"e":0.01},{"c":"Xe","x":0.594,"y":0.793,"e":0.015},{"c":"Xe","x":0.78,"y":0.835,"e":0.02},{"c":"Xe","x":1.0,"y":0.865,"e":0.02},{"c":"Xe","x":1.85,"y":1.126,"e":0.07}],
"Lpp":[{"c":"He","x":0.05,"y":0.95},{"c":"He","x":0.147,"y":0.946},{"c":"He","x":0.334,"y":0.96},{"c":"He","x":0.58,"y":0.973},{"c":"He","x":1.0,"y":1.0},{"c":"He","x":1.69,"y":1.032},{"c":"He","x":2.43,"y":0.982},{"c":"He","x":2.91,"y":1.126},{"c":"He","x":3.2,"y":1.3},
{"c":"Ne","x":0.05,"y":0.878},{"c":"Ne","x":0.147,"y":0.878},{"c":"Ne","x":0.334,"y":0.892},{"c":"Ne","x":0.58,"y":0.914},{"c":"Ne","x":1.0,"y":0.96},{"c":"Ne","x":1.69,"y":1.027},{"c":"Ne","x":2.43,"y":1.099},{"c":"Ne","x":3.1,"y":1.198},{"c":"Ne","x":3.3,"y":1.3},
{"c":"Kr","x":0.05,"y":0.745},{"c":"Kr","x":0.147,"y":0.757},{"c":"Kr","x":0.334,"y":0.784},{"c":"Kr","x":0.58,"y":0.817},{"c":"Kr","x":0.77,"y":0.847},{"c":"Kr","x":1.0,"y":0.91},{"c":"Kr","x":1.31,"y":0.932},{"c":"Kr","x":1.69,"y":0.932},{"c":"Kr","x":2.12,"y":1.054},{"c":"Kr","x":2.75,"y":1.18},{"c":"Kr","x":3.0,"y":1.25},
{"c":"Xe","x":0.05,"y":0.694},{"c":"Xe","x":0.147,"y":0.716},{"c":"Xe","x":0.334,"y":0.752},{"c":"Xe","x":0.58,"y":0.793},{"c":"Xe","x":1.0,"y":0.865},{"c":"Xe","x":1.31,"y":0.888},{"c":"Xe","x":1.69,"y":0.91},{"c":"Xe","x":2.28,"y":0.946},{"c":"Xe","x":2.99,"y":1.0},{"c":"Xe","x":3.94,"y":1.058}],
"Ppm":[{"c":"He","x":0.024,"y":0.949,"e":0.01},{"c":"He","x":0.074,"y":0.967,"e":0.01},{"c":"He","x":0.188,"y":0.958,"e":0.01},{"c":"He","x":0.394,"y":0.94,"e":0.01},{"c":"He","x":0.594,"y":0.958,"e":0.01},{"c":"He","x":0.78,"y":0.969,"e":0.015},{"c":"He","x":1.0,"y":0.964,"e":0.02},{"c":"He","x":1.85,"y":0.955,"e":0.04},
{"c":"Ne","x":0.024,"y":0.858,"e":0.01},{"c":"Ne","x":0.074,"y":0.887,"e":0.01},{"c":"Ne","x":0.188,"y":0.887,"e":0.01},{"c":"Ne","x":0.394,"y":0.887,"e":0.01},{"c":"Ne","x":0.594,"y":0.9,"e":0.01},{"c":"Ne","x":0.78,"y":0.933,"e":0.015},{"c":"Ne","x":1.0,"y":0.945,"e":0.02},{"c":"Ne","x":1.23,"y":0.927,"e":0.02},
{"c":"Kr","x":0.024,"y":0.724,"e":0.01},{"c":"Kr","x":0.074,"y":0.764,"e":0.01},{"c":"Kr","x":0.188,"y":0.764,"e":0.01},{"c":"Kr","x":0.394,"y":0.795,"e":0.01},{"c":"Kr","x":0.594,"y":0.836,"e":0.01},{"c":"Kr","x":0.78,"y":0.873,"e":0.015},{"c":"Kr","x":1.0,"y":0.891,"e":0.02},{"c":"Kr","x":1.23,"y":0.927,"e":0.02},{"c":"Kr","x":1.85,"y":1.085,"e":0.04},
{"c":"Xe","x":0.024,"y":0.673,"e":0.01},{"c":"Xe","x":0.074,"y":0.704,"e":0.01},{"c":"Xe","x":0.188,"y":0.718,"e":0.01},{"c":"Xe","x":0.394,"y":0.764,"e":0.01},{"c":"Xe","x":0.594,"y":0.798,"e":0.01},{"c":"Xe","x":0.78,"y":0.845,"e":0.015},{"c":"Xe","x":1.0,"y":0.882,"e":0.02},{"c":"Xe","x":1.23,"y":0.922,"e":0.02},{"c":"Xe","x":1.85,"y":1.067,"e":0.05}],
"Lpm":[{"c":"He","x":0.05,"y":0.942},{"c":"He","x":0.147,"y":0.936},{"c":"He","x":0.334,"y":0.945},{"c":"He","x":0.58,"y":0.958},{"c":"He","x":1.0,"y":0.991},{"c":"He","x":1.69,"y":1.067},{"c":"He","x":2.28,"y":1.045},{"c":"He","x":3.43,"y":1.118},{"c":"He","x":4.5,"y":1.2},
{"c":"Ne","x":0.05,"y":0.869},{"c":"Ne","x":0.147,"y":0.869},{"c":"Ne","x":0.334,"y":0.891},{"c":"Ne","x":0.58,"y":0.909},{"c":"Ne","x":1.0,"y":0.955},{"c":"Ne","x":1.69,"y":1.013},{"c":"Ne","x":2.28,"y":0.991},{"c":"Ne","x":2.99,"y":1.155},{"c":"Ne","x":3.3,"y":1.25},
{"c":"Kr","x":0.05,"y":0.755},{"c":"Kr","x":0.147,"y":0.769},{"c":"Kr","x":0.334,"y":0.8},{"c":"Kr","x":0.58,"y":0.842},{"c":"Kr","x":1.0,"y":0.936},{"c":"Kr","x":1.69,"y":1.018},{"c":"Kr","x":2.28,"y":1.009},{"c":"Kr","x":2.99,"y":1.19},{"c":"Kr","x":3.2,"y":1.25},
{"c":"Xe","x":0.05,"y":0.709},{"c":"Xe","x":0.147,"y":0.715},{"c":"Xe","x":0.334,"y":0.755},{"c":"Xe","x":0.58,"y":0.791},{"c":"Xe","x":1.0,"y":0.891},{"c":"Xe","x":1.69,"y":1.0},{"c":"Xe","x":2.28,"y":1.036},{"c":"Xe","x":2.8,"y":1.209},{"c":"Xe","x":3.0,"y":1.3}]
},
"columns":4,
"spacing":0,
"bounds":"flush",
"resolve":{"scale":{"x":"independent","y":"independent"}},
"concat":[
{"width":133.5,"height":149,
"encoding":{"x":{"field":"x","type":"quantitative","scale":{"domain":[0,25],"nice":false,"zero":false},"axis":null},"y":{"field":"y","type":"quantitative","scale":{"domain":[0.4,1.2],"nice":false,"zero":false},"axis":null},"color":{"field":"c","type":"nominal","scale":{"domain":["He","Ne","Kr","Xe"],"range":["#000000","#ff0000","#00e000","#0000ff"]},"legend":null}},
"layer":[
{"data":{"name":"Ln0"},"mark":{"type":"line","clip":true,"strokeWidth":1.7}},
{"data":{"name":"Pn0"},"mark":{"type":"errorbar","thickness":1.5},"encoding":{"yError":{"field":"e"}}},
{"data":{"name":"Pn0"},"mark":{"type":"point","filled":true,"opacity":1,"size":42}},
{"data":{"values":[{"x":16.7,"y":0.51,"t":"π⁰"}]},"mark":{"type":"text","align":"left","baseline":"alphabetic","fontSize":17,"font":"Liberation Sans"},"encoding":{"text":{"field":"t"},"color":{"value":"#ff00ff"}}},
{"data":{"name":"Pn0"},"mark":{"type":"point","opacity":0},"encoding":{"x":{"field":"x","type":"quantitative","scale":{"domain":[0,25],"nice":false,"zero":false},"axis":{"orient":"bottom","values":[0,2.5,5,7.5,10,12.5,15,17.5,20,22.5,25],"labels":false,"title":null}},"y":{"field":"y","type":"quantitative","scale":{"domain":[0.4,1.2],"nice":false,"zero":false},"axis":{"orient":"left","values":[0.4,0.5,0.6,0.7,0.8,0.9,1,1.1,1.2],"format":"~g","labelExpr":"indexof(['0.4','0.6','0.8','1','1.2'],datum.label)>=0?datum.label:''","labelPadding":10,"title":null}}}},
{"data":{"name":"Pn0"},"mark":{"type":"point","opacity":0},"encoding":{"x":{"field":"x","type":"quantitative","scale":{"domain":[0,25],"nice":false,"zero":false},"axis":{"orient":"top","values":[0,2.5,5,7.5,10,12.5,15,17.5,20,22.5,25],"labels":false,"title":null}},"y":{"field":"y","type":"quantitative","scale":{"domain":[0.4,1.2],"nice":false,"zero":false},"axis":{"orient":"right","values":[0.4,0.5,0.6,0.7,0.8,0.9,1,1.1,1.2],"labels":false,"title":null}}}}
],
"resolve":{"axis":{"x":"independent","y":"independent"}}},
{"width":133.5,"height":149,
"encoding":{"x":{"field":"x","type":"quantitative","scale":{"domain":[0,1.1],"nice":false,"zero":false},"axis":null},"y":{"field":"y","type":"quantitative","scale":{"domain":[0.4,1.2],"nice":false,"zero":false},"axis":null},"color":{"field":"c","type":"nominal","scale":{"domain":["He","Ne","Kr","Xe"],"range":["#000000","#ff0000","#00e000","#0000ff"]},"legend":null}},
"layer":[
{"data":{"name":"Lz0"},"mark":{"type":"line","clip":true,"strokeWidth":1.7}},
{"data":{"name":"Pz0"},"mark":{"type":"errorbar","thickness":1.5},"encoding":{"yError":{"field":"e"}}},
{"data":{"name":"Pz0"},"mark":{"type":"point","filled":true,"opacity":1,"size":42}},
{"data":{"name":"Pz0"},"mark":{"type":"point","opacity":0},"encoding":{"x":{"field":"x","type":"quantitative","scale":{"domain":[0,1.1],"nice":false,"zero":false},"axis":{"orient":"bottom","values":[0,0.1,0.2,0.3,0.4,0.5,0.6,0.7,0.8,0.9,1,1.1],"labels":false,"title":null}},"y":{"field":"y","type":"quantitative","scale":{"domain":[0.4,1.2],"nice":false,"zero":false},"axis":{"orient":"left","values":[0.4,0.5,0.6,0.7,0.8,0.9,1,1.1,1.2],"labels":false,"title":null}}}},
{"data":{"name":"Pz0"},"mark":{"type":"point","opacity":0},"encoding":{"x":{"field":"x","type":"quantitative","scale":{"domain":[0,1.1],"nice":false,"zero":false},"axis":{"orient":"top","values":[0,0.1,0.2,0.3,0.4,0.5,0.6,0.7,0.8,0.9,1,1.1],"labels":false,"title":null}},"y":{"field":"y","type":"quantitative","scale":{"domain":[0.4,1.2],"nice":false,"zero":false},"axis":{"orient":"right","values":[0.4,0.5,0.6,0.7,0.8,0.9,1,1.1,1.2],"labels":false,"title":null}}}}
],
"resolve":{"axis":{"x":"independent","y":"independent"}}},
{"width":133.5,"height":149,
"encoding":{"x":{"field":"x","type":"quantitative","scale":{"type":"log","domain":[0.313,30.8],"nice":false},"axis":null},"y":{"field":"y","type":"quantitative","scale":{"domain":[0.4,1.2],"nice":false,"zero":false},"axis":null},"color":{"field":"c","type":"nominal","scale":{"domain":["He","Ne","Kr","Xe"],"range":["#000000","#ff0000","#00e000","#0000ff"]},"legend":null}},
"layer":[
{"data":{"name":"LQ0"},"mark":{"type":"line","clip":true,"strokeWidth":1.7}},
{"data":{"name":"PQ0"},"mark":{"type":"errorbar","thickness":1.5},"encoding":{"yError":{"field":"e"}}},
{"data":{"name":"PQ0"},"mark":{"type":"point","filled":true,"opacity":1,"size":42}},
{"data":{"name":"PQ0"},"mark":{"type":"point","opacity":0},"encoding":{"x":{"field":"x","type":"quantitative","scale":{"type":"log","domain":[0.313,30.8],"nice":false},"axis":{"orient":"bottom","values":[0.4,0.5,0.6,0.7,0.8,0.9,1,2,3,4,5,6,7,8,9,10,20,30],"labels":false,"title":null}},"y":{"field":"y","type":"quantitative","scale":{"domain":[0.4,1.2],"nice":false,"zero":false},"axis":{"orient":"left","values":[0.4,0.5,0.6,0.7,0.8,0.9,1,1.1,1.2],"labels":false,"title":null}}}},
{"data":{"name":"PQ0"},"mark":{"type":"point","opacity":0},"encoding":{"x":{"field":"x","type":"quantitative","scale":{"type":"log","domain":[0.313,30.8],"nice":false},"axis":{"orient":"top","values":[0.4,0.5,0.6,0.7,0.8,0.9,1,2,3,4,5,6,7,8,9,10,20,30],"labels":false,"title":null}},"y":{"field":"y","type":"quantitative","scale":{"domain":[0.4,1.2],"nice":false,"zero":false},"axis":{"orient":"right","values":[0.4,0.5,0.6,0.7,0.8,0.9,1,1.1,1.2],"labels":false,"title":null}}}}
],
"resolve":{"axis":{"x":"independent","y":"independent"}}},
{"width":133.5,"height":149,
"encoding":{"x":{"field":"x","type":"quantitative","scale":{"type":"log","domain":[0.0205,4.95],"nice":false},"axis":null},"y":{"field":"y","type":"quantitative","scale":{"domain":[0.4,1.2],"nice":false,"zero":false},"axis":null},"color":{"field":"c","type":"nominal","scale":{"domain":["He","Ne","Kr","Xe"],"range":["#000000","#ff0000","#00e000","#0000ff"]},"legend":null}},
"layer":[
{"data":{"name":"Lp0"},"mark":{"type":"line","clip":true,"strokeWidth":1.7}},
{"data":{"name":"Pp0"},"mark":{"type":"errorbar","thickness":1.5},"encoding":{"yError":{"field":"e"}}},
{"data":{"name":"Pp0"},"mark":{"type":"point","filled":true,"opacity":1,"size":42}},
{"data":{"name":"Pp0"},"mark":{"type":"point","opacity":0},"encoding":{"x":{"field":"x","type":"quantitative","scale":{"type":"log","domain":[0.0205,4.95],"nice":false},"axis":{"orient":"bottom","values":[0.03,0.04,0.05,0.06,0.07,0.08,0.09,0.1,0.2,0.3,0.4,0.5,0.6,0.7,0.8,0.9,1,2,3,4],"labels":false,"title":null}},"y":{"field":"y","type":"quantitative","scale":{"domain":[0.4,1.2],"nice":false,"zero":false},"axis":{"orient":"left","values":[0.4,0.5,0.6,0.7,0.8,0.9,1,1.1,1.2],"labels":false,"title":null}}}},
{"data":{"name":"Pp0"},"mark":{"type":"point","opacity":0},"encoding":{"x":{"field":"x","type":"quantitative","scale":{"type":"log","domain":[0.0205,4.95],"nice":false},"axis":{"orient":"top","values":[0.03,0.04,0.05,0.06,0.07,0.08,0.09,0.1,0.2,0.3,0.4,0.5,0.6,0.7,0.8,0.9,1,2,3,4],"labels":false,"title":null}},"y":{"field":"y","type":"quantitative","scale":{"domain":[0.4,1.2],"nice":false,"zero":false},"axis":{"orient":"right","values":[0.4,0.5,0.6,0.7,0.8,0.9,1,1.1,1.2],"labels":false,"title":null}}}}
],
"resolve":{"axis":{"x":"independent","y":"independent"}}},
{"width":133.5,"height":149,
"encoding":{"x":{"field":"x","type":"quantitative","scale":{"domain":[0,25],"nice":false,"zero":false},"axis":null},"y":{"field":"y","type":"quantitative","scale":{"domain":[0.4,1.2],"nice":false,"zero":false},"axis":null},"color":{"field":"c","type":"nominal","scale":{"domain":["He","Ne","Kr","Xe"],"range":["#000000","#ff0000","#00e000","#0000ff"]},"legend":null}},
"layer":[
{"data":{"name":"Lnp"},"mark":{"type":"line","clip":true,"strokeWidth":1.7}},
{"data":{"name":"Pnp"},"mark":{"type":"errorbar","thickness":1.5},"encoding":{"yError":{"field":"e"}}},
{"data":{"name":"Pnp"},"mark":{"type":"point","filled":true,"opacity":1,"size":42}},
{"data":{"values":[{"x":16.7,"y":0.513,"t":"π⁺"}]},"mark":{"type":"text","align":"left","baseline":"alphabetic","fontSize":17,"font":"Liberation Sans"},"encoding":{"text":{"field":"t"},"color":{"value":"#ff00ff"}}},
{"data":{"values":[{"x":-15.9,"y":0.78,"t":"R"}]},"mark":{"type":"text","align":"center","baseline":"middle","angle":270,"fontSize":34,"font":"Liberation Sans"},"encoding":{"text":{"field":"t"},"color":{"value":"#000000"}}},
{"data":{"values":[{"x":-12.4,"y":0.915,"t":"M"},{"x":-17.8,"y":0.95,"t":"h"}]},"mark":{"type":"text","align":"center","baseline":"middle","angle":270,"fontSize":22,"font":"Liberation Sans"},"encoding":{"text":{"field":"t"},"color":{"value":"#000000"}}},
{"data":{"name":"Pnp"},"mark":{"type":"point","opacity":0},"encoding":{"x":{"field":"x","type":"quantitative","scale":{"domain":[0,25],"nice":false,"zero":false},"axis":{"orient":"bottom","values":[0,2.5,5,7.5,10,12.5,15,17.5,20,22.5,25],"labels":false,"title":null}},"y":{"field":"y","type":"quantitative","scale":{"domain":[0.4,1.2],"nice":false,"zero":false},"axis":{"orient":"left","values":[0.4,0.5,0.6,0.7,0.8,0.9,1,1.1,1.2],"format":"~g","labelExpr":"indexof(['0.4','0.6','0.8','1'],datum.label)>=0?datum.label:''","labelPadding":10,"title":null}}}},
{"data":{"name":"Pnp"},"mark":{"type":"point","opacity":0},"encoding":{"x":{"field":"x","type":"quantitative","scale":{"domain":[0,25],"nice":false,"zero":false},"axis":{"orient":"top","values":[0,2.5,5,7.5,10,12.5,15,17.5,20,22.5,25],"labels":false,"title":null}},"y":{"field":"y","type":"quantitative","scale":{"domain":[0.4,1.2],"nice":false,"zero":false},"axis":{"orient":"right","values":[0.4,0.5,0.6,0.7,0.8,0.9,1,1.1,1.2],"labels":false,"title":null}}}}
],
"resolve":{"axis":{"x":"independent","y":"independent"}}},
{"width":133.5,"height":149,
"encoding":{"x":{"field":"x","type":"quantitative","scale":{"domain":[0,1.1],"nice":false,"zero":false},"axis":null},"y":{"field":"y","type":"quantitative","scale":{"domain":[0.4,1.2],"nice":false,"zero":false},"axis":null},"color":{"field":"c","type":"nominal","scale":{"domain":["He","Ne","Kr","Xe"],"range":["#000000","#ff0000","#00e000","#0000ff"]},"legend":null}},
"layer":[
{"data":{"name":"Lzp"},"mark":{"type":"line","clip":true,"strokeWidth":1.7}},
{"data":{"name":"Pzp"},"mark":{"type":"errorbar","thickness":1.5},"encoding":{"yError":{"field":"e"}}},
{"data":{"name":"Pzp"},"mark":{"type":"point","filled":true,"opacity":1,"size":42}},
{"data":{"name":"Pzp"},"mark":{"type":"point","opacity":0},"encoding":{"x":{"field":"x","type":"quantitative","scale":{"domain":[0,1.1],"nice":false,"zero":false},"axis":{"orient":"bottom","values":[0,0.1,0.2,0.3,0.4,0.5,0.6,0.7,0.8,0.9,1,1.1],"labels":false,"title":null}},"y":{"field":"y","type":"quantitative","scale":{"domain":[0.4,1.2],"nice":false,"zero":false},"axis":{"orient":"left","values":[0.4,0.5,0.6,0.7,0.8,0.9,1,1.1,1.2],"labels":false,"title":null}}}},
{"data":{"name":"Pzp"},"mark":{"type":"point","opacity":0},"encoding":{"x":{"field":"x","type":"quantitative","scale":{"domain":[0,1.1],"nice":false,"zero":false},"axis":{"orient":"top","values":[0,0.1,0.2,0.3,0.4,0.5,0.6,0.7,0.8,0.9,1,1.1],"labels":false,"title":null}},"y":{"field":"y","type":"quantitative","scale":{"domain":[0.4,1.2],"nice":false,"zero":false},"axis":{"orient":"right","values":[0.4,0.5,0.6,0.7,0.8,0.9,1,1.1,1.2],"labels":false,"title":null}}}}
],
"resolve":{"axis":{"x":"independent","y":"independent"}}},
{"width":133.5,"height":149,
"encoding":{"x":{"field":"x","type":"quantitative","scale":{"type":"log","domain":[0.313,30.8],"nice":false},"axis":null},"y":{"field":"y","type":"quantitative","scale":{"domain":[0.4,1.2],"nice":false,"zero":false},"axis":null},"color":{"field":"c","type":"nominal","scale":{"domain":["He","Ne","Kr","Xe"],"range":["#000000","#ff0000","#00e000","#0000ff"]},"legend":null}},
"layer":[
{"data":{"name":"LQp"},"mark":{"type":"line","clip":true,"strokeWidth":1.7}},
{"data":{"name":"PQp"},"mark":{"type":"errorbar","thickness":1.5},"encoding":{"yError":{"field":"e"}}},
{"data":{"name":"PQp"},"mark":{"type":"point","filled":true,"opacity":1,"size":42}},
{"data":{"name":"PQp"},"mark":{"type":"point","opacity":0},"encoding":{"x":{"field":"x","type":"quantitative","scale":{"type":"log","domain":[0.313,30.8],"nice":false},"axis":{"orient":"bottom","values":[0.4,0.5,0.6,0.7,0.8,0.9,1,2,3,4,5,6,7,8,9,10,20,30],"labels":false,"title":null}},"y":{"field":"y","type":"quantitative","scale":{"domain":[0.4,1.2],"nice":false,"zero":false},"axis":{"orient":"left","values":[0.4,0.5,0.6,0.7,0.8,0.9,1,1.1,1.2],"labels":false,"title":null}}}},
{"data":{"name":"PQp"},"mark":{"type":"point","opacity":0},"encoding":{"x":{"field":"x","type":"quantitative","scale":{"type":"log","domain":[0.313,30.8],"nice":false},"axis":{"orient":"top","values":[0.4,0.5,0.6,0.7,0.8,0.9,1,2,3,4,5,6,7,8,9,10,20,30],"labels":false,"title":null}},"y":{"field":"y","type":"quantitative","scale":{"domain":[0.4,1.2],"nice":false,"zero":false},"axis":{"orient":"right","values":[0.4,0.5,0.6,0.7,0.8,0.9,1,1.1,1.2],"labels":false,"title":null}}}}
],
"resolve":{"axis":{"x":"independent","y":"independent"}}},
{"width":133.5,"height":149,
"encoding":{"x":{"field":"x","type":"quantitative","scale":{"type":"log","domain":[0.0205,4.95],"nice":false},"axis":null},"y":{"field":"y","type":"quantitative","scale":{"domain":[0.4,1.2],"nice":false,"zero":false},"axis":null},"color":{"field":"c","type":"nominal","scale":{"domain":["He","Ne","Kr","Xe"],"range":["#000000","#ff0000","#00e000","#0000ff"]},"legend":null}},
"layer":[
{"data":{"name":"Lpp"},"mark":{"type":"line","clip":true,"strokeWidth":1.7}},
{"data":{"name":"Ppp"},"mark":{"type":"errorbar","thickness":1.5},"encoding":{"yError":{"field":"e"}}},
{"data":{"name":"Ppp"},"mark":{"type":"point","filled":true,"opacity":1,"size":42}},
{"data":{"name":"Ppp"},"mark":{"type":"point","opacity":0},"encoding":{"x":{"field":"x","type":"quantitative","scale":{"type":"log","domain":[0.0205,4.95],"nice":false},"axis":{"orient":"bottom","values":[0.03,0.04,0.05,0.06,0.07,0.08,0.09,0.1,0.2,0.3,0.4,0.5,0.6,0.7,0.8,0.9,1,2,3,4],"labels":false,"title":null}},"y":{"field":"y","type":"quantitative","scale":{"domain":[0.4,1.2],"nice":false,"zero":false},"axis":{"orient":"left","values":[0.4,0.5,0.6,0.7,0.8,0.9,1,1.1,1.2],"labels":false,"title":null}}}},
{"data":{"name":"Ppp"},"mark":{"type":"point","opacity":0},"encoding":{"x":{"field":"x","type":"quantitative","scale":{"type":"log","domain":[0.0205,4.95],"nice":false},"axis":{"orient":"top","values":[0.03,0.04,0.05,0.06,0.07,0.08,0.09,0.1,0.2,0.3,0.4,0.5,0.6,0.7,0.8,0.9,1,2,3,4],"labels":false,"title":null}},"y":{"field":"y","type":"quantitative","scale":{"domain":[0.4,1.2],"nice":false,"zero":false},"axis":{"orient":"right","values":[0.4,0.5,0.6,0.7,0.8,0.9,1,1.1,1.2],"labels":false,"title":null}}}}
],
"resolve":{"axis":{"x":"independent","y":"independent"}}},
{"width":133.5,"height":149,
"encoding":{"x":{"field":"x","type":"quantitative","scale":{"domain":[0,25],"nice":false,"zero":false},"axis":null},"y":{"field":"y","type":"quantitative","scale":{"domain":[0.4,1.2],"nice":false,"zero":false},"axis":null},"color":{"field":"c","type":"nominal","scale":{"domain":["He","Ne","Kr","Xe"],"range":["#000000","#ff0000","#00e000","#0000ff"]},"legend":null}},
"layer":[
{"data":{"name":"Lnm"},"mark":{"type":"line","clip":true,"strokeWidth":1.7}},
{"data":{"name":"Pnm"},"mark":{"type":"errorbar","thickness":1.5},"encoding":{"yError":{"field":"e"}}},
{"data":{"name":"Pnm"},"mark":{"type":"point","filled":true,"opacity":1,"size":42}},
{"data":{"values":[{"x":16.7,"y":0.513,"t":"π⁻"}]},"mark":{"type":"text","align":"left","baseline":"alphabetic","fontSize":17,"font":"Liberation Sans"},"encoding":{"text":{"field":"t"},"color":{"value":"#ff00ff"}}},
{"data":{"name":"Pnm"},"mark":{"type":"point","opacity":0},"encoding":{"x":{"field":"x","type":"quantitative","scale":{"domain":[0,25],"nice":false,"zero":false},"axis":{"orient":"bottom","values":[0,2.5,5,7.5,10,12.5,15,17.5,20,22.5,25],"format":"~g","labelExpr":"datum.value==10||datum.value==20?datum.label:''","labelPadding":27,"title":"ν [GeV]","titlePadding":14}},"y":{"field":"y","type":"quantitative","scale":{"domain":[0.4,1.2],"nice":false,"zero":false},"axis":{"orient":"left","values":[0.4,0.5,0.6,0.7,0.8,0.9,1,1.1,1.2],"format":"~g","labelExpr":"indexof(['0.4','0.6','0.8','1'],datum.label)>=0?datum.label:''","labelPadding":10,"title":null}}}},
{"data":{"name":"Pnm"},"mark":{"type":"point","opacity":0},"encoding":{"x":{"field":"x","type":"quantitative","scale":{"domain":[0,25],"nice":false,"zero":false},"axis":{"orient":"top","values":[0,2.5,5,7.5,10,12.5,15,17.5,20,22.5,25],"labels":false,"title":null}},"y":{"field":"y","type":"quantitative","scale":{"domain":[0.4,1.2],"nice":false,"zero":false},"axis":{"orient":"right","values":[0.4,0.5,0.6,0.7,0.8,0.9,1,1.1,1.2],"labels":false,"title":null}}}}
],
"resolve":{"axis":{"x":"independent","y":"independent"}}},
{"width":133.5,"height":149,
"encoding":{"x":{"field":"x","type":"quantitative","scale":{"domain":[0,1.1],"nice":false,"zero":false},"axis":null},"y":{"field":"y","type":"quantitative","scale":{"domain":[0.4,1.2],"nice":false,"zero":false},"axis":null},"color":{"field":"c","type":"nominal","scale":{"domain":["He","Ne","Kr","Xe"],"range":["#000000","#ff0000","#00e000","#0000ff"]},"legend":null}},
"layer":[
{"data":{"name":"Lzm"},"mark":{"type":"line","clip":true,"strokeWidth":1.7}},
{"data":{"name":"Pzm"},"mark":{"type":"errorbar","thickness":1.5},"encoding":{"yError":{"field":"e"}}},
{"data":{"name":"Pzm"},"mark":{"type":"point","filled":true,"opacity":1,"size":42}},
{"data":{"name":"Pzm"},"mark":{"type":"point","opacity":0},"encoding":{"x":{"field":"x","type":"quantitative","scale":{"domain":[0,1.1],"nice":false,"zero":false},"axis":{"orient":"bottom","values":[0,0.1,0.2,0.3,0.4,0.5,0.6,0.7,0.8,0.9,1,1.1],"format":"~g","labelExpr":"datum.value==0.5||datum.value==1?datum.label:''","labelPadding":27,"title":"zₕ","titlePadding":14}},"y":{"field":"y","type":"quantitative","scale":{"domain":[0.4,1.2],"nice":false,"zero":false},"axis":{"orient":"left","values":[0.4,0.5,0.6,0.7,0.8,0.9,1,1.1,1.2],"labels":false,"title":null}}}},
{"data":{"name":"Pzm"},"mark":{"type":"point","opacity":0},"encoding":{"x":{"field":"x","type":"quantitative","scale":{"domain":[0,1.1],"nice":false,"zero":false},"axis":{"orient":"top","values":[0,0.1,0.2,0.3,0.4,0.5,0.6,0.7,0.8,0.9,1,1.1],"labels":false,"title":null}},"y":{"field":"y","type":"quantitative","scale":{"domain":[0.4,1.2],"nice":false,"zero":false},"axis":{"orient":"right","values":[0.4,0.5,0.6,0.7,0.8,0.9,1,1.1,1.2],"labels":false,"title":null}}}}
],
"resolve":{"axis":{"x":"independent","y":"independent"}}},
{"width":133.5,"height":149,
"encoding":{"x":{"field":"x","type":"quantitative","scale":{"type":"log","domain":[0.313,30.8],"nice":false},"axis":null},"y":{"field":"y","type":"quantitative","scale":{"domain":[0.4,1.2],"nice":false,"zero":false},"axis":null},"color":{"field":"c","type":"nominal","scale":{"domain":["He","Ne","Kr","Xe"],"range":["#000000","#ff0000","#00e000","#0000ff"]},"legend":null}},
"layer":[
{"data":{"name":"LQm"},"mark":{"type":"line","clip":true,"strokeWidth":1.7}},
{"data":{"name":"PQm"},"mark":{"type":"errorbar","thickness":1.5},"encoding":{"yError":{"field":"e"}}},
{"data":{"name":"PQm"},"mark":{"type":"point","filled":true,"opacity":1,"size":42}},
{"data":{"name":"PQm"},"mark":{"type":"point","opacity":0},"encoding":{"x":{"field":"x","type":"quantitative","scale":{"type":"log","domain":[0.313,30.8],"nice":false},"axis":{"orient":"bottom","values":[0.4,0.5,0.6,0.7,0.8,0.9,1,2,3,4,5,6,7,8,9,10,20,30],"format":"~g","labelExpr":"datum.value==1||datum.value==10?datum.label:''","labelPadding":27,"title":"Q² [GeV²]","titlePadding":14}},"y":{"field":"y","type":"quantitative","scale":{"domain":[0.4,1.2],"nice":false,"zero":false},"axis":{"orient":"left","values":[0.4,0.5,0.6,0.7,0.8,0.9,1,1.1,1.2],"labels":false,"title":null}}}},
{"data":{"name":"PQm"},"mark":{"type":"point","opacity":0},"encoding":{"x":{"field":"x","type":"quantitative","scale":{"type":"log","domain":[0.313,30.8],"nice":false},"axis":{"orient":"top","values":[0.4,0.5,0.6,0.7,0.8,0.9,1,2,3,4,5,6,7,8,9,10,20,30],"labels":false,"title":null}},"y":{"field":"y","type":"quantitative","scale":{"domain":[0.4,1.2],"nice":false,"zero":false},"axis":{"orient":"right","values":[0.4,0.5,0.6,0.7,0.8,0.9,1,1.1,1.2],"labels":false,"title":null}}}}
],
"resolve":{"axis":{"x":"independent","y":"independent"}}},
{"width":133.5,"height":149,
"encoding":{"x":{"field":"x","type":"quantitative","scale":{"type":"log","domain":[0.0205,4.95],"nice":false},"axis":null},"y":{"field":"y","type":"quantitative","scale":{"domain":[0.4,1.2],"nice":false,"zero":false},"axis":null},"color":{"field":"c","type":"nominal","scale":{"domain":["He","Ne","Kr","Xe"],"range":["#000000","#ff0000","#00e000","#0000ff"]},"legend":null}},
"layer":[
{"data":{"name":"Lpm"},"mark":{"type":"line","clip":true,"strokeWidth":1.7}},
{"data":{"name":"Ppm"},"mark":{"type":"errorbar","thickness":1.5},"encoding":{"yError":{"field":"e"}}},
{"data":{"name":"Ppm"},"mark":{"type":"point","filled":true,"opacity":1,"size":42}},
{"data":{"name":"Ppm"},"mark":{"type":"point","opacity":0},"encoding":{"x":{"field":"x","type":"quantitative","scale":{"type":"log","domain":[0.0205,4.95],"nice":false},"axis":{"orient":"bottom","values":[0.03,0.04,0.05,0.06,0.07,0.08,0.09,0.1,0.2,0.3,0.4,0.5,0.6,0.7,0.8,0.9,1,2,3,4],"format":"~g","labelExpr":"datum.value==0.1||datum.value==1?datum.label:''","labelPadding":27,"title":"pₜ² [GeV²]","titlePadding":14}},"y":{"field":"y","type":"quantitative","scale":{"domain":[0.4,1.2],"nice":false,"zero":false},"axis":{"orient":"left","values":[0.4,0.5,0.6,0.7,0.8,0.9,1,1.1,1.2],"labels":false,"title":null}}}},
{"data":{"name":"Ppm"},"mark":{"type":"point","opacity":0},"encoding":{"x":{"field":"x","type":"quantitative","scale":{"type":"log","domain":[0.0205,4.95],"nice":false},"axis":{"orient":"top","values":[0.03,0.04,0.05,0.06,0.07,0.08,0.09,0.1,0.2,0.3,0.4,0.5,0.6,0.7,0.8,0.9,1,2,3,4],"labels":false,"title":null}},"y":{"field":"y","type":"quantitative","scale":{"domain":[0.4,1.2],"nice":false,"zero":false},"axis":{"orient":"right","values":[0.4,0.5,0.6,0.7,0.8,0.9,1,1.1,1.2],"labels":false,"title":null}}}}
],
"resolve":{"axis":{"x":"independent","y":"independent"}}}
],
"config":{
"view":{"stroke":"#000000","strokeWidth":2},
"axis":{"domain":false,"grid":false,"ticks":true,"tickColor":"#000000","tickWidth":1.5,"tickSize":-7,"labelFont":"Liberation Sans","labelFontSize":22,"labelColor":"#000000","titleFont":"Liberation Sans","titleFontSize":21,"titleFontWeight":"normal","titleColor":"#000000","labelFlush":false,"labelOverlap":false,"labelBound":false}
}
}
